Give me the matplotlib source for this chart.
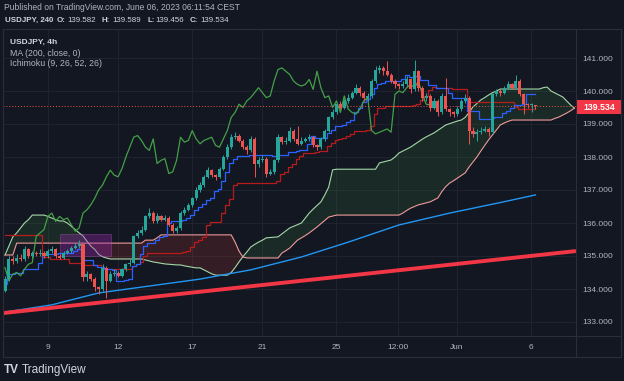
import numpy as np
import matplotlib
matplotlib.use("Agg")
import matplotlib.pyplot as plt
from matplotlib.patches import Rectangle
from matplotlib.lines import Line2D

# ---------------- data ----------------
first_open = 133.95
closes = [134.30, 134.90, 134.85, 134.95, 134.90, 135.20, 135.00, 135.10, 135.05, 135.10,
          135.00, 135.15, 135.20, 135.00, 134.95, 135.10, 135.15, 135.25, 135.30, 135.35,
          134.35, 134.45, 134.30, 134.05, 134.00, 134.65, 134.25, 134.45, 134.50, 134.40,
          134.60, 134.75, 134.80, 135.60, 135.70, 135.80, 136.20, 136.30, 136.05, 136.20,
          136.10, 136.15, 135.95, 135.75, 135.85, 136.30, 136.40, 136.55, 136.75, 137.00,
          137.15, 137.40, 137.60, 137.45, 137.40, 137.65, 138.00, 138.30, 138.60, 138.65,
          138.50, 138.30, 138.20, 138.55, 137.80, 137.90, 137.95, 137.50, 137.55, 137.90,
          138.60, 138.45, 138.50, 138.80, 138.55, 138.40, 138.50, 138.55, 138.60, 138.35,
          138.30, 138.55, 138.80, 139.20, 139.35, 139.60, 139.50, 139.70, 139.80, 139.95,
          140.10, 139.95, 139.80, 139.85, 140.30, 140.65, 140.70, 140.60, 140.50, 140.30,
          140.20, 140.15, 140.20, 140.35, 140.05, 140.60, 140.10, 139.80, 139.85, 139.50,
          139.70, 139.35, 139.85, 139.45, 139.35, 139.30, 139.45, 139.70, 139.80, 138.80,
          138.70, 138.75, 138.80, 138.85, 138.75, 139.90, 140.00, 139.95, 140.10, 140.20,
          140.10, 140.30, 139.90, 139.60, 139.58, 139.582, 139.534]
highs = [134.40, 135.00, 135.00, 135.05, 135.05, 135.30, 135.25, 135.15, 135.15, 135.20,
         135.15, 135.20, 135.30, 135.25, 135.05, 135.15, 135.20, 135.30, 135.40, 135.50,
         135.40, 134.55, 134.50, 134.35, 134.10, 134.75, 134.70, 134.55, 134.60, 134.55,
         134.65, 134.80, 134.90, 135.65, 135.80, 135.90, 136.25, 136.45, 136.35, 136.30,
         136.25, 136.25, 136.20, 136.00, 135.90, 136.35, 136.50, 136.60, 136.80, 137.10,
         137.25, 137.45, 137.70, 137.65, 137.50, 137.70, 138.05, 138.40, 138.70, 138.75,
         138.70, 138.55, 138.35, 138.65, 138.60, 138.00, 138.05, 138.00, 137.65, 137.95,
         138.70, 138.65, 138.60, 138.90, 138.85, 138.95, 138.60, 138.60, 138.70, 138.65,
         138.40, 138.60, 138.85, 139.25, 139.45, 139.65, 139.70, 139.75, 139.90, 140.00,
         140.20, 140.15, 140.00, 139.95, 140.35, 140.75, 140.80, 140.75, 140.90, 140.55,
         140.35, 140.25, 140.30, 140.45, 140.40, 140.94, 140.65, 140.15, 139.95, 139.90,
         139.80, 139.75, 139.95, 140.40, 139.50, 139.40, 139.55, 139.75, 139.90, 139.85,
         138.90, 138.85, 138.90, 138.95, 138.90, 139.95, 140.05, 140.05, 140.15, 140.30,
         140.25, 140.50, 140.35, 139.95, 139.65, 139.65, 139.589]
lows = [133.90, 134.25, 134.75, 134.80, 134.85, 134.85, 134.95, 134.95, 135.00, 135.00,
        134.95, 134.95, 135.10, 134.95, 134.90, 134.90, 135.05, 135.10, 135.20, 135.25,
        134.25, 134.25, 134.25, 133.95, 133.85, 133.95, 133.73, 134.20, 134.40, 134.35,
        134.35, 134.55, 134.70, 134.75, 135.55, 135.65, 135.75, 136.15, 136.00, 136.00,
        136.05, 136.05, 135.90, 135.70, 135.70, 135.80, 136.25, 136.35, 136.50, 136.70,
        136.95, 137.10, 137.35, 137.40, 137.30, 137.35, 137.60, 137.95, 138.25, 138.55,
        138.45, 138.25, 138.10, 138.15, 137.40, 137.70, 137.85, 137.40, 137.45, 137.50,
        137.85, 138.40, 138.40, 138.45, 138.50, 138.35, 138.35, 138.45, 138.50, 138.30,
        138.20, 138.25, 138.50, 138.75, 139.15, 139.30, 139.45, 139.45, 139.65, 139.75,
        139.90, 139.85, 139.70, 139.70, 139.80, 140.25, 140.55, 140.50, 140.45, 140.25,
        140.10, 140.05, 140.10, 140.15, 139.95, 140.00, 140.00, 139.70, 139.70, 139.40,
        139.45, 139.25, 139.30, 139.40, 139.25, 139.20, 139.25, 139.40, 139.65, 138.40,
        138.60, 138.50, 138.70, 138.75, 138.65, 138.70, 139.85, 139.85, 139.90, 140.05,
        140.05, 140.05, 139.85, 139.30, 139.50, 139.35, 139.456]

# base line over the first bars (its window reaches before the visible data)
kijun_early = [135.64] * 10 + [134.97] * 2 + [134.90] * 5 + [134.80] * 3 + [134.72] * 5

span_a = ([135.03, 135.30, 135.58, 135.70, 135.85, 136.00, 136.10, 136.24, 136.24, 136.24,
           136.24, 136.20, 136.15, 136.10, 136.06, 136.06, 136.00, 135.90, 135.80, 135.70,
           135.61, 135.45, 135.30, 135.20, 135.05, 134.98, 134.94]
          + [134.91] * 9
          + [134.88, 134.85, 134.82, 134.80, 134.78, 134.76, 134.75, 134.74, 134.73, 134.73,
             134.70, 134.68, 134.66, 134.64, 134.64, 134.58, 134.52, 134.46, 134.42, 134.42,
             134.42, 134.42, 134.50, 134.65, 134.82, 134.98, 135.12, 135.27, 135.35, 135.42,
             135.48, 135.55, 135.56, 135.57, 135.58, 135.67, 135.76, 135.85, 135.90, 135.95,
             136.00, 136.15, 136.30, 136.42, 136.53, 136.64, 136.85, 137.09, 137.61]
          + [137.63] * 11
          + [137.82, 137.85, 137.88, 137.91, 138.00, 138.12, 138.18, 138.24, 138.30, 138.38,
             138.46, 138.54, 138.61, 138.67, 138.73, 138.81, 138.89, 138.97, 139.01, 139.05,
             139.09, 139.12, 139.20, 139.35, 139.52, 139.62, 139.73, 139.80, 139.88, 139.95,
             140.00]
          + [140.06] * 11
          + [140.10, 140.12, 140.00, 139.94, 139.88, 139.82, 139.70, 139.58, 139.48])
span_b = ([135.03] * 3 + [135.39] * 33 + [135.48] * 3 + [135.55] + [135.64] * 19
          + [135.42, 135.15, 134.97] + [134.94] * 9
          + [135.09, 135.16, 135.24, 135.36, 135.48, 135.55, 135.62, 135.70, 135.79, 135.88,
             135.98, 136.08, 136.18, 136.21]
          + [136.24] * 17
          + [136.30, 136.38, 136.45, 136.50, 136.55, 136.58, 136.61, 136.64, 136.70, 136.76,
             136.95, 137.10, 137.21, 137.28, 137.36, 137.44, 137.52, 137.70, 137.85, 138.00,
             138.18, 138.35, 138.52, 138.67, 138.82, 138.97, 139.03, 139.08]
          + [139.12] * 11
          + [139.17, 139.21, 139.27, 139.33, 139.40, 139.48])

ma_bars = [0, 12, 24, 37, 50, 63, 76, 88, 101, 114, 127, 136]
ma_vals = [133.30, 133.52, 133.88, 134.09, 134.30, 134.58, 134.97, 135.42, 135.94, 136.30, 136.62, 136.85]

trend_bars = [-0.5, 146.4]
trend_vals = [133.27, 135.15]

box_bars = [14.1, 27.2]
box_vals = [135.00, 135.67]

tick_pos = [11.0, 29.0, 47.9, 65.9, 84.9, 100.8, 115.9, 134.9]
tick_lab = ["9", "12", "17", "21", "25", "12:00", "Jun", "6"]
price_ticks = [133, 134, 135, 136, 137, 138, 139, 140, 141]
last_price = 139.534
lag = 25

# ---------------- figure ----------------
W, H = 624, 381
BG = "#131722"
fig = plt.figure(figsize=(W / 100, H / 100), dpi=100, facecolor=BG)
FONT = "Liberation Sans"

def fx(x):
    return x / W

def fy(y):
    return 1 - y / H

ax_left, ax_right, ax_top, ax_bot = 3, 576, 29, 336
ax = fig.add_axes([fx(ax_left), fy(ax_bot), (ax_right - ax_left) / W, (ax_bot - ax_top) / H])
ax.set_facecolor(BG)
ylo = 141 - (ax_bot - 58) / 33.0
yhi = 141 + (58 - ax_top) / 33.0
ax.set_ylim(ylo, yhi)
ax.set_xlim(-0.513, 146.41)

n = len(closes)
idx = np.arange(n)
c = np.array(closes)
o = np.concatenate([[first_open], c[:-1]])
h = np.array(highs)
l = np.array(lows)

# grid
for t in tick_pos:
    ax.axvline(t, color="#1f232e", lw=0.8, zorder=0)
for p in price_ticks:
    ax.axhline(p, color="#1f232e", lw=0.8, zorder=0)

# Ichimoku cloud
sa = np.array(span_a)
sb = np.array(span_b)
sx = np.arange(len(sa))
ax.fill_between(sx, sa, sb, where=sa >= sb, interpolate=True, color="#43A047", alpha=0.15, lw=0, zorder=1)
ax.fill_between(sx, sa, sb, where=sa < sb, interpolate=True, color="#F44336", alpha=0.15, lw=0, zorder=1)
ax.plot(sx, sa, color="#A5D6A7", lw=0.8, zorder=2)
ax.plot(sx, sb, color="#EF9A9A", lw=0.8, zorder=2)

# tenkan / kijun from price data
def midline(period):
    out = []
    for i in range(n):
        s = max(0, i - period + 1)
        out.append((h[s:i + 1].max() + l[s:i + 1].min()) / 2)
    return np.array(out)

tenkan = midline(9)
kijun = midline(26)
kijun[:len(kijun_early)] = kijun_early
ax.plot(idx, kijun, color="#B71C1C", lw=0.9, drawstyle="steps-mid", zorder=3)
ax.plot(idx, tenkan, color="#2962FF", lw=0.9, drawstyle="steps-mid", zorder=3)
# lagging span
ax.plot(idx[:-lag], c[lag:], color="#43A047", lw=0.9, zorder=3)

# MA 200
ax.plot(ma_bars, ma_vals, color="#2196F3", lw=1.0, zorder=3)

# trend line
ax.plot(trend_bars, trend_vals, color="#F23645", lw=2.8, solid_capstyle="butt", zorder=4)

# purple box
ax.add_patch(Rectangle((box_bars[0], box_vals[0]), box_bars[1] - box_bars[0], box_vals[1] - box_vals[0],
                       facecolor="#9C27B0", alpha=0.35, edgecolor="#BA68C8", lw=0.6, zorder=2))

# candles
up = c >= o
cols = np.where(up, "#26a69a", "#ef5350")
ax.vlines(idx, l, h, colors=cols, lw=0.7, zorder=5)
body_lo = np.minimum(o, c)
body_h = np.maximum(np.abs(c - o), 0.025)
ax.bar(idx, body_h, bottom=body_lo, width=0.8, color=cols, lw=0, zorder=6)

# last price line
ax.axhline(last_price, color="#ef5350", lw=0.7, ls=(0, (1, 2)), zorder=4)

# axes styling
for s in ax.spines.values():
    s.set_visible(False)
ax.set_xticks(tick_pos)
ax.set_xticklabels(tick_lab)
ax.set_yticks(price_ticks)
ax.set_yticklabels([f"{p:.3f}" for p in price_ticks])
ax.yaxis.tick_right()
ax.tick_params(axis="both", length=0, colors="#B2B5BE", labelsize=6)
ax.tick_params(axis="x", pad=6)
ax.tick_params(axis="y", pad=4.3)
for lab in ax.get_xticklabels() + ax.get_yticklabels():
    lab.set_fontfamily(FONT)

# panel borders / separators
def fline(x0, y0, x1, y1, col="#2a2e39", lw=0.8):
    fig.add_artist(Line2D([fx(x0), fx(x1)], [fy(y0), fy(y1)], color=col, lw=lw))
fline(3, 29, 621, 29)
fline(3, 29, 3, 357)
fline(621, 29, 621, 357)
fline(3, 357, 621, 357)
fline(576, 29, 576, 357)
fline(3, 336, 621, 336)

# price label
fig.add_artist(Rectangle((fx(577), fy(114)), 45 / W, 14 / H, facecolor="#F23645", edgecolor="none"))
fig.text(fx(599.5), fy(107), "139.534", color="white", fontsize=6.3, fontfamily=FONT,
         fontweight="bold", ha="center", va="center")

# header text
fig.text(fx(4), fy(8), "Published on TradingView.com, June 06, 2023 06:11:54 CEST",
         color="#B2B5BE", fontsize=6.15, fontfamily=FONT, va="center", ha="left")
hdr = [(5, "USDJPY, 240", True), (57, "O:", True), (67, "139.582", False), (102, "H:", True),
       (112, "139.589", False), (147, "L:", True), (155, "139.456", False), (190, "C:", True),
       (200, "139.534", False)]
for x, t, b in hdr:
    fig.text(fx(x), fy(20), t, color="#D1D4DC", fontsize=5.7, fontfamily=FONT,
             fontweight="bold" if b else "normal", va="center", ha="left")

# legend
fig.text(fx(10), fy(42), "USDJPY, 4h", color="#D1D4DC", fontsize=6.0, fontfamily=FONT,
         fontweight="bold", va="center")
fig.text(fx(10), fy(53), "MA (200, close, 0)", color="#B2B5BE", fontsize=6.3, fontfamily=FONT, va="center")
fig.text(fx(10), fy(63.5), "Ichimoku (9, 26, 52, 26)", color="#B2B5BE", fontsize=6.3, fontfamily=FONT, va="center")

# TradingView logo
fig.text(fx(4), fy(370), "TV", color="#D1D4DC", fontsize=8.5, fontfamily=FONT, fontweight="bold", va="center")
fig.text(fx(22), fy(370), "TradingView", color="#D1D4DC", fontsize=8.5, fontfamily=FONT, va="center")

fig.savefig("out.png", dpi=100, facecolor=BG)
